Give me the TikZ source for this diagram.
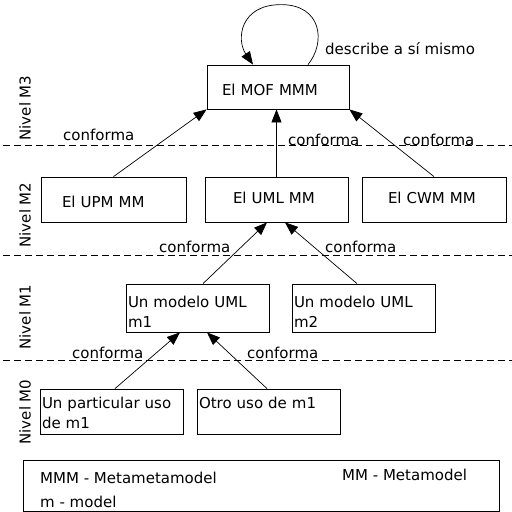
\documentclass[tikz,border=0pt]{standalone}
\usepackage{fontspec}
\setmainfont{DejaVu Sans}
\usetikzlibrary{arrows.meta,calc}

\begin{document}
\begin{tikzpicture}[
    x=1pt, y=-1pt,
    font=\fontsize{15}{20}\selectfont,
    box/.style={draw, line width=0.8pt, inner xsep=2pt, inner ysep=0pt, align=left},
    lbl/.style={inner sep=0pt, anchor=base west},
    level/.style={inner sep=0pt, rotate=90},
    conn/.style={draw, line width=0.7pt, -{Triangle[length=13pt,width=10pt]}},
    sep/.style={draw, line width=0.8pt, dash pattern=on 7pt off 4pt}
  ]
  \useasboundingbox[fill=white] (0,0) rectangle (512,512);

  % level separators
  \draw[sep] (3,145) -- (512,145);
  \draw[sep] (3,255) -- (512,255);
  \draw[sep] (3,360) -- (512,360);

  % level names
  \node[level] (n3) at (25,108) {Nivel M3};
  \node[level] (n2) at (25,215) {Nivel M2};
  \node[level] (n1) at (25,317) {Nivel M1};
  \node[level] (n0) at (25,412) {Nivel M0};

  % M3
  \node[box, text width=138pt, text height=30pt, text depth=14pt] (mof) at (278,87)
    {\hspace*{13pt}El MOF MMM};

  % M2
  \node[box, text width=141pt, text height=30pt, text depth=15pt] (upm) at (113.5,199.5)
    {\hspace*{19pt}El UPM MM};
  \node[box, text width=139pt, text height=26pt, text depth=19pt] (uml) at (276.5,199.5)
    {\hspace*{26pt}El UML MM};
  \node[box, text width=140pt, text height=26pt, text depth=19pt] (cwm) at (434,199.5)
    {\hspace*{24pt}El CWM MM};

  % M1
  \node[box, text width=139pt, text height=23pt, text depth=25pt] (m1) at (197.5,308)
    {Un modelo UML\\m1};
  \node[box, text width=139pt, text height=23pt, text depth=25pt] (m2) at (363.5,308)
    {Un modelo UML\\m2};

  % M0
  \node[box, text width=139pt, text height=19pt, text depth=26pt] (p0) at (111.5,411.5)
    {Un particular uso\\de m1};
  \node[box, text width=139pt, text height=19pt, text depth=26pt] (o0) at (268.5,411.5)
    {Otro uso de m1\\\mbox{}};

  % self description loop
  \draw[conn] ($(mof.north)+(30,0)$)
    .. controls ($(mof.north)+(48,-22)$) and ($(mof.north)+(44,-60)$) .. ($(mof.north)+(3,-60)$)
    .. controls ($(mof.north)+(-38,-60)$) and ($(mof.north)+(-42,-25)$) .. ($(mof.north)+(-25,0)$);
  \node[lbl] (self) at (325,54) {describe a sí mismo};

  % conformance arrows M2 -> M3
  \draw[conn] (upm.north) -- (mof.south west);
  \draw[conn] (uml.north) -- (uml.north |- mof.south);
  \draw[conn] (cwm.north) -- (mof.south east);
  \node[lbl] (c31) at (63,140) {conforma};
  \node[lbl] (c32) at (288,145) {conforma};
  \node[lbl] (c33) at (403,145) {conforma};

  % conformance arrows M1 -> M2
  \draw[conn] ($(m1.north)+(5.5,0)$) -- ($(uml.south)+(-9.5,0)$);
  \draw[conn] ($(m2.north)+(-6.5,0)$) -- ($(uml.south)+(8.5,0)$);
  \node[lbl] (c21) at (159,252.5) {conforma};
  \node[lbl] (c22) at (325,252.5) {conforma};

  % conformance arrows M0 -> M1
  \draw[conn] ($(p0.north)+(3.5,0)$) -- ($(m1.south)+(-17.5,0)$);
  \draw[conn] ($(o0.north)+(-1.5,0)$) -- ($(m1.south)+(9.5,0)$);
  \node[lbl] (c11) at (72,358) {conforma};
  \node[lbl] (c12) at (247,358) {conforma};

  % legend
  \node[draw, line width=0.8pt, minimum width=476pt, minimum height=51pt, inner sep=0pt] (legend) at (261,485.5) {};
  \node[lbl] (k1) at (40,483) {MMM - Metametamodel};
  \node[lbl] (k2) at (342,480) {MM - Metamodel};
  \node[lbl] (k3) at (40,507) {m - model};
\end{tikzpicture}
\end{document}
